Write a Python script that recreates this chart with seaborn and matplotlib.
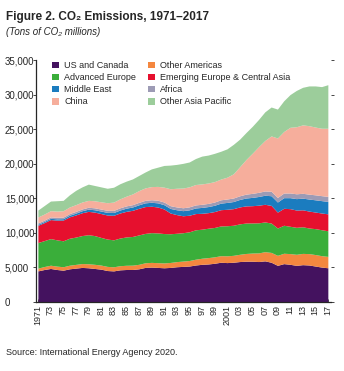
import matplotlib
matplotlib.use("Agg")
import matplotlib.pyplot as plt
from matplotlib.patches import Patch
import seaborn as sns
import pandas as pd

years = list(range(1971, 2018))

us_canada = [4500, 4700, 4850, 4700, 4600, 4800, 4900, 5000, 4950, 4850,
             4750, 4550, 4500, 4650, 4700, 4700, 4800, 5000, 5050, 5000,
             4950, 5000, 5100, 5150, 5200, 5350, 5450, 5500, 5600, 5750,
             5700, 5750, 5850, 5900, 5900, 5850, 5950, 5750, 5300, 5550,
             5450, 5300, 5400, 5350, 5200, 5050, 4950]
other_americas = [400, 430, 470, 490, 500, 520, 540, 560, 580, 600,
                  590, 600, 590, 600, 610, 630, 650, 670, 680, 690,
                  700, 720, 740, 770, 800, 840, 880, 920, 930, 950,
                  980, 1000, 1050, 1120, 1180, 1250, 1330, 1420, 1450, 1500,
                  1550, 1600, 1630, 1650, 1660, 1650, 1650]
advanced_europe = [3700, 3750, 3850, 3800, 3750, 3900, 3950, 4050, 4200, 4150,
                   4000, 3950, 3900, 4000, 4100, 4150, 4250, 4250, 4300, 4300,
                   4250, 4150, 4100, 4100, 4150, 4250, 4200, 4250, 4250, 4300,
                   4350, 4350, 4400, 4400, 4350, 4350, 4300, 4250, 3950, 4050,
                   3950, 3900, 3850, 3700, 3750, 3750, 3700]
emerging_europe = [2500, 2600, 2750, 2850, 3000, 3100, 3200, 3300, 3380, 3400,
                   3450, 3480, 3550, 3620, 3700, 3780, 3850, 3880, 3820, 3750,
                   3550, 3000, 2700, 2450, 2400, 2350, 2300, 2250, 2300, 2350,
                   2380, 2400, 2450, 2480, 2500, 2550, 2550, 2550, 2300, 2450,
                   2550, 2500, 2450, 2450, 2400, 2420, 2450]
middle_east = [150, 160, 180, 190, 200, 230, 260, 290, 320, 340,
               360, 380, 400, 430, 460, 480, 510, 540, 570, 600,
               620, 660, 700, 740, 780, 810, 850, 880, 910, 950,
               990, 1030, 1080, 1140, 1200, 1260, 1310, 1400, 1460, 1540,
               1590, 1650, 1690, 1740, 1770, 1790, 1800]
africa = [200, 200, 210, 220, 230, 240, 250, 260, 270, 280,
          290, 300, 310, 320, 330, 340, 350, 360, 370, 380,
          390, 400, 410, 420, 430, 440, 450, 460, 470, 480,
          500, 510, 530, 560, 580, 600, 620, 650, 660, 670,
          680, 700, 700, 710, 720, 720, 730]
china = [850, 880, 900, 900, 920, 950, 980, 1000, 1000, 1020,
         1050, 1100, 1200, 1300, 1400, 1550, 1700, 1800, 1900, 2000,
         2150, 2450, 2700, 2850, 2900, 2950, 2950, 2950, 2950, 3000,
         3150, 3500, 4200, 5000, 5800, 6600, 7300, 8000, 8600, 8900,
         9500, 9700, 9900, 9900, 9800, 9750, 9850]
other_asia_pacific = [1000, 1230, 1390, 1500, 1500, 1760, 2070, 2190, 2350, 2210,
                      2160, 2090, 2150, 2180, 2180, 2170, 2190, 2300, 2560, 2780,
                      3140, 3420, 3450, 3570, 3590, 3760, 4020, 4040, 4090, 4020,
                      4100, 4260, 3990, 3900, 3890, 3940, 4140, 4180, 4180, 4440,
                      4730, 5250, 5430, 5750, 5950, 6020, 6300]

series_names = ["US and Canada", "Other Americas", "Advanced Europe",
                "Emerging Europe & Central Asia", "Middle East", "Africa",
                "China", "Other Asia Pacific"]
colors = ["#44125f", "#f4873f", "#3aae3a", "#e6102e", "#1b7cbf", "#9d9bb5",
          "#f6ae9c", "#9ccd9b"]

year_labels = ["1971", "73", "75", "77", "79", "81", "83", "85", "87", "89",
               "91", "93", "95", "97", "99", "2001", "03", "05", "07", "09",
               "11", "13", "15", "17"]

df = pd.DataFrame({"year": years, "US and Canada": us_canada,
                   "Other Americas": other_americas,
                   "Advanced Europe": advanced_europe,
                   "Emerging Europe & Central Asia": emerging_europe,
                   "Middle East": middle_east, "Africa": africa,
                   "China": china, "Other Asia Pacific": other_asia_pacific})

sns.set_style("ticks")
FONT = ["Liberation Sans", "DejaVu Sans"]
plt.rcParams["font.family"] = FONT

W, H = 344, 371
fig = plt.figure(figsize=(W / 100, H / 100), dpi=100)
ax = fig.add_axes([36 / W, 1 - 302 / H, (331 - 36) / W, (302 - 60) / H])

ax.stackplot(df["year"], [df[n] for n in series_names], colors=colors,
             linewidth=0)

ax.set_xlim(1970.7, 2017.5)
ax.set_ylim(0, 35000)

ax.set_yticks(range(0, 35001, 5000))
ax.set_yticklabels([f"{v:,}" for v in range(0, 35001, 5000)], fontsize=7,
                   ha="left")
ax.set_xticks(years)
xl = []
k = 0
for y in years:
    if (y - 1971) % 2 == 0:
        xl.append(year_labels[k]); k += 1
    else:
        xl.append("")
ax.set_xticklabels(xl, rotation=90, fontsize=6.5)
ax.tick_params(axis="x", direction="in", length=2, width=0.6, pad=2,
               color="#333333")
ax.tick_params(axis="y", direction="out", length=2, width=0.6, pad=20.3,
               right=True, labelright=False)

for s in ["top", "right"]:
    ax.spines[s].set_visible(False)
ax.spines["left"].set_linewidth(0.9)
ax.spines["bottom"].set_linewidth(0.9)

# legend laid out row-wise like the reference (column-major order for matplotlib)
order = [0, 2, 4, 6, 1, 3, 5, 7]
handles = [Patch(facecolor=colors[i], edgecolor="none") for i in order]
labels = [series_names[i] for i in order]
leg = fig.legend(handles, labels, ncol=2, loc="upper left",
                 bbox_to_anchor=(52 / W, 1 - 61 / H), frameon=False,
                 fontsize=6.5, handlelength=0.75, handleheight=0.75,
                 handletextpad=0.6, columnspacing=1.3, labelspacing=0.35,
                 borderaxespad=0, borderpad=0)

fig.text(6 / W, 1 - 11 / H, "Figure 2. CO₂ Emissions, 1971–2017",
         fontsize=8.5, fontweight="bold", va="top", ha="left")
fig.text(6 / W, 1 - 27 / H, "(Tons of CO₂ millions)", fontsize=7,
         fontstyle="italic", va="top", ha="left")
fig.text(6 / W, 1 - 348 / H, "Source: International Energy Agency 2020.",
         fontsize=6.5, va="top", ha="left")

fig.savefig("out.png", dpi=100)
